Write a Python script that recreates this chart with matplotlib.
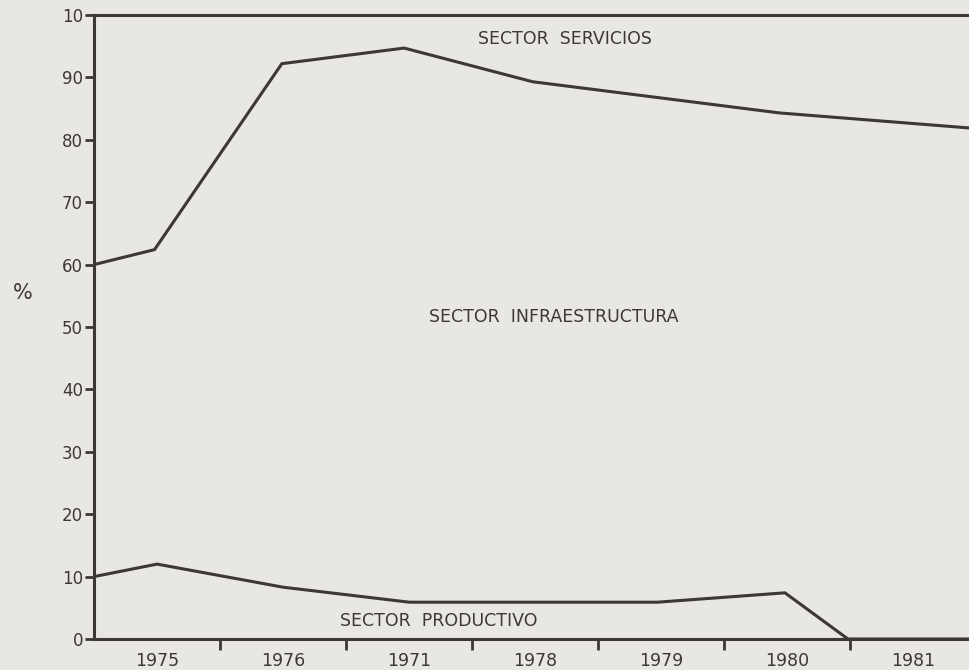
import numpy as np
import matplotlib.pyplot as plt

# year slots on the x axis (0 = left edge, 1 unit per year)
years = ["1975", "1976", "1971", "1978", "1979", "1980", "1981"]
year_pos = [0.5, 1.5, 2.5, 3.5, 4.5, 5.5, 6.5]
year_edges = [1, 2, 3, 4, 5, 6]

# sector servicios (%)
serv_x = [0.0, 0.48, 1.49, 2.46, 3.48, 5.44, 6.94]
serv_y = [60.0, 62.4, 92.2, 94.7, 89.3, 84.3, 81.9]

# sector productivo (%)
prod_x = [0.0, 0.5, 1.5, 2.5, 3.5, 4.47, 5.48, 5.98, 6.94]
prod_y = [10.0, 12.0, 8.3, 5.9, 5.9, 5.9, 7.4, 0.0, 0.0]

y_ticks = [0, 10, 20, 30, 40, 50, 60, 70, 80, 90, 100]
y_labels = ["0", "10", "20", "30", "40", "50", "60", "70", "80", "90", "10"]

paper = "#e9e7e2"
ink = "#3b3835"

plt.rcParams['font.family'] = ['DejaVu Sans']

fig = plt.figure(figsize=(9.69, 6.70), dpi=100, facecolor=paper)
ax = fig.add_axes([94/969, 31/670, 875/969, 624/670])
ax.set_facecolor(paper)

ax.plot(serv_x, serv_y, color=ink, lw=2.2, solid_joinstyle='miter')
ax.plot(prod_x, prod_y, color=ink, lw=2.2, solid_joinstyle='miter')

ax.set_xlim(0, 6.94)
ax.set_ylim(0, 100)

for s in ['left', 'bottom', 'top']:
    ax.spines[s].set_color(ink)
    ax.spines[s].set_linewidth(2.2)
ax.spines['right'].set_visible(False)

ax.set_yticks(y_ticks)
ax.set_yticklabels(y_labels)
ax.tick_params(axis='y', direction='out', length=6.5, width=2, color=ink,
               pad=1.5, labelsize=12, labelcolor=ink)

# major ticks mark year boundaries, minor ticks carry the year labels
ax.set_xticks(year_edges)
ax.set_xticklabels([])
ax.tick_params(axis='x', which='major', direction='out', length=8, width=2, color=ink)
ax.set_xticks(year_pos, minor=True)
ax.set_xticklabels(years, minor=True)
ax.tick_params(axis='x', which='minor', length=0, pad=9, labelsize=12.5, labelcolor=ink)

ax.text(-0.081, 0.554, "%", transform=ax.transAxes, ha='center', va='center',
        fontsize=15, color=ink)

lbl = dict(ha='center', va='center', fontsize=12.5, color=ink, transform=ax.transAxes)
ax.text((565-94)/875, (639-39)/624, "SECTOR  SERVICIOS", **lbl)
ax.text((554-94)/875, (639-317)/624, "SECTOR  INFRAESTRUCTURA", **lbl)
ax.text((439-94)/875, (639-621)/624, "SECTOR  PRODUCTIVO", **lbl)

plt.savefig("out.png", dpi=100, facecolor=paper)
